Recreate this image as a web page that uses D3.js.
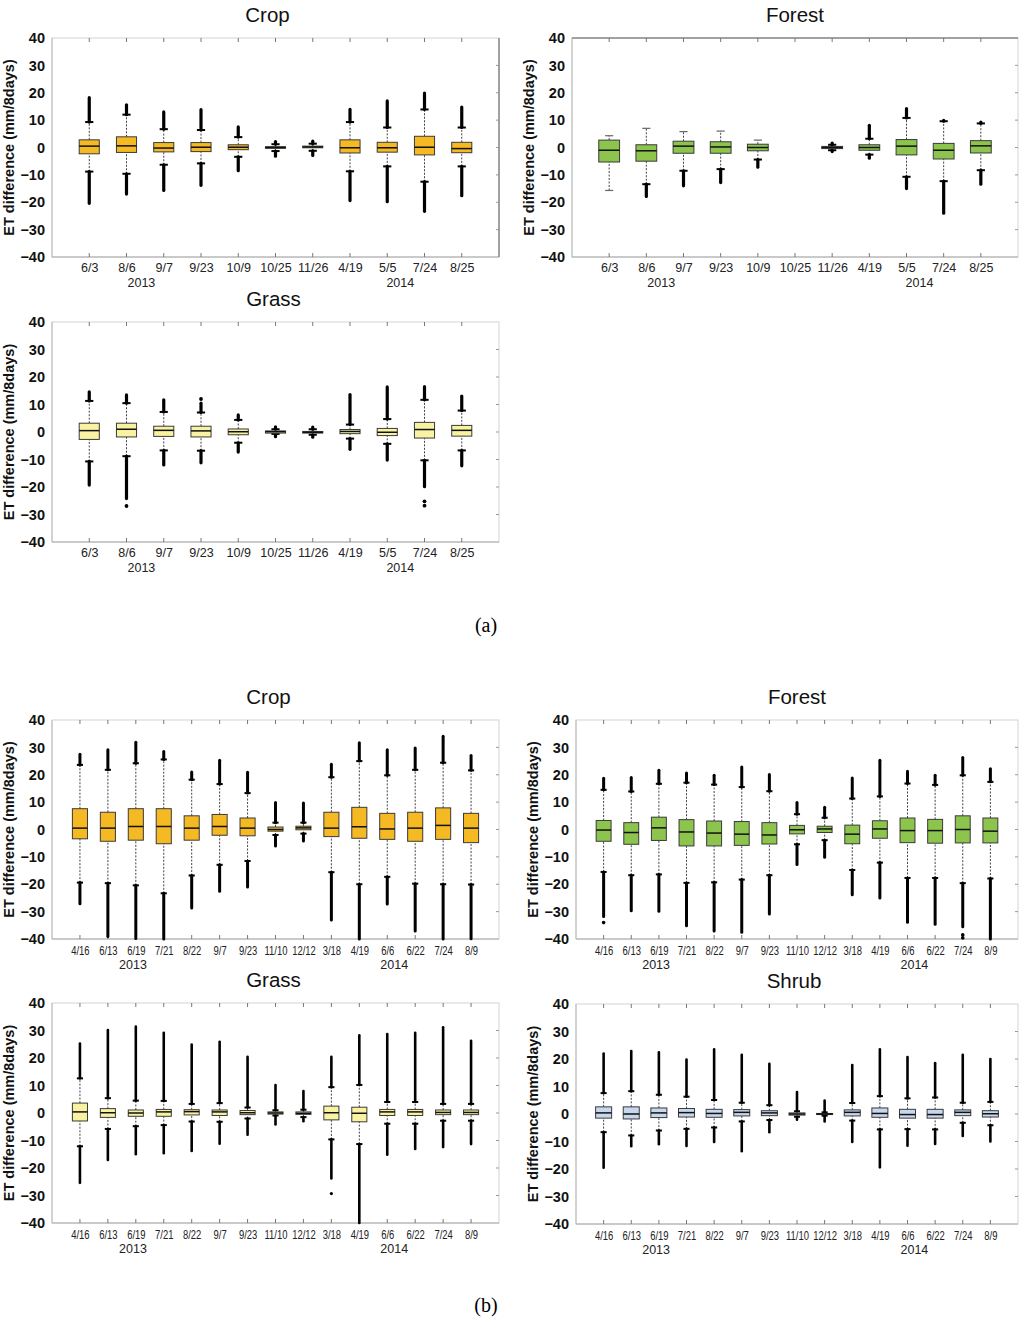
<!DOCTYPE html>
<html>
<head>
<meta charset="utf-8">
<script src="https://cdn.jsdelivr.net/npm/d3@7"></script>
<style>
  body { margin: 0; background: #fff; }
  text { font-family: "Liberation Sans", Arial, sans-serif; }
</style>
</head>
<body>
<script>
// dates of the image pairs
const datesA = ['6/3', '8/6', '9/7', '9/23', '10/9', '10/25', '11/26', '4/19', '5/5', '7/24', '8/25'];
const datesB = ['4/16', '6/13', '6/19', '7/21', '8/22', '9/7', '9/23', '11/10', '12/12', '3/18', '4/19', '6/6', '6/22', '7/24', '8/9'];
const yTicks = [-40, -30, -20, -10, 0, 10, 20, 30, 40];

// rows: [outlier min, whisker low, q1, median, q3, whisker high, outlier max]
const cropA = [
  [-20.4, -8.8, -2.3, 0.5, 2.8, 9.3, 18.2],
  [-17, -9.6, -1.8, 0.6, 3.9, 12, 15.6],
  [-15.7, -6.3, -1.6, -0.2, 1.8, 6.7, 13],
  [-13.8, -5.8, -1.5, 0.1, 1.8, 6.4, 13.8],
  [-8.5, -3.4, -0.8, 0.1, 1.0, 3.8, 7.5],
  [-3.2, -1.3, -0.3, 0, 0.3, 1.2, 2.2],
  [-2.9, -1.2, -0.1, 0.2, 0.5, 1.4, 2.3],
  [-19.4, -8.7, -2, -0.1, 2.8, 9.3, 13.9],
  [-19.8, -6.9, -1.7, -0.1, 1.9, 7.3, 17],
  [-23.3, -12.5, -2.7, 0.1, 4.1, 13.9, 19.9],
  [-17.6, -6.9, -1.9, -0.4, 1.9, 7.3, 14.8]
];
const forestA = [
  [-15.7, -15.7, -5.3, -1, 2.7, 4.3, 4.3],
  [-17.9, -13.4, -5, -1.2, 1, 7, 7],
  [-14, -8.5, -2.1, 0.5, 2.3, 5.8, 5.8],
  [-12.8, -7.9, -2.1, 0.2, 2.1, 6, 6],
  [-7.2, -4.4, -1.2, 0, 1.2, 2.7, 2.7],
  null,
  [-1.5, -1, -0.4, 0, 0.4, 1, 1.6],
  [-3.9, -2.6, -1, 0, 1, 3.2, 8.1],
  [-15, -10.7, -2.7, 0.5, 2.9, 10.8, 14.2],
  [-24, -12.3, -4.2, -1, 1.5, 9.6, 9.9],
  [-13.4, -8.3, -2, 0.6, 2.5, 8.8, 9.3]
];
const grassA = [
  [-19.3, -10.7, -2.7, 0.5, 3.2, 11.3, 14.6],
  [-24.2, -8.8, -1.8, 1, 3.2, 10.5, 13.5],
  [-12, -6.7, -1.6, 0.6, 2.1, 7.3, 11.7],
  [-11.2, -6.8, -1.8, 0.4, 2.1, 7.1, 10.5],
  [-7.3, -3.9, -1, 0.1, 1.1, 4.4, 6.2],
  [-1.7, -0.7, -0.4, 0.1, 0.4, 1, 1.9],
  [-1.9, -1, -0.4, -0.1, 0.2, 1, 1.8],
  [-6.3, -2.4, -0.6, 0.2, 0.9, 2.7, 13.6],
  [-10.2, -4.3, -1.3, -0.1, 1.3, 4.7, 16.4],
  [-19.9, -10.3, -2.2, 0.9, 3.5, 11.7, 16.5],
  [-12.3, -6.7, -1.5, 0.6, 2.4, 7.8, 13.1]
];
const grassAExtra = [['8/6', -26.9], ['9/23', 12], ['7/24', -25.2], ['7/24', -26.8]];

const cropB = [
  [-27.1, -19.4, -3.4, 0.5, 7.6, 23.6, 27.5],
  [-39.1, -19.6, -4.3, 0.5, 6.3, 21.8, 29.1],
  [-39.8, -20.4, -3.9, 1.1, 7.6, 24.2, 31.9],
  [-40, -23.3, -5.2, 1.1, 7.6, 25.6, 28.5],
  [-28.7, -16.8, -3.9, 0.5, 5, 18.2, 21],
  [-22.6, -12.9, -2.1, 1.1, 5.5, 16.6, 25.3],
  [-21, -11.5, -2.3, 0.5, 4.2, 13.3, 20.9],
  [-6, -2, -0.6, 0, 0.9, 2.5, 9.9],
  [-4.2, -1.5, -0.1, 0.6, 1.2, 2.5, 9.7],
  [-33.1, -15.6, -2.6, 0.5, 6.3, 19.1, 23.8],
  [-40, -20, -3.2, 1, 8.1, 25, 31.7],
  [-27.2, -17.3, -3.6, 0.2, 5.9, 19.8, 29.1],
  [-37.1, -19.8, -4.3, 0.5, 6.3, 21.8, 29.8],
  [-40, -20, -3.6, 1.5, 7.9, 24.4, 34.1],
  [-39.9, -20.1, -4.8, 0.5, 5.9, 21.6, 27]
];
const forestB = [
  [-31.8, -15.5, -4.3, -0.2, 3.3, 14.5, 18.7],
  [-29.7, -16.7, -5.4, -1.1, 2.5, 13.9, 19],
  [-29.9, -16.4, -4, 0.6, 4.5, 16.7, 21.6],
  [-35.2, -19.5, -6, -0.9, 3.6, 17.1, 20.6],
  [-37.1, -19.3, -6, -1.3, 3.1, 16.4, 19.8],
  [-37.5, -18.3, -5.8, -1.7, 2.9, 15.5, 22.8],
  [-30.9, -16.7, -5.3, -2, 2.5, 14, 20.1],
  [-12.8, -5.4, -1.6, -0.1, 1.5, 5.6, 9.9],
  [-10.1, -3.9, -1.1, 0.2, 1.2, 4.3, 8.1],
  [-23.8, -14.8, -5.2, -1.7, 1.6, 11.3, 18.8],
  [-25, -12.1, -3.2, 0.2, 3.2, 12.1, 25.3],
  [-33.9, -17.7, -4.8, -0.4, 4.2, 16.8, 21.3],
  [-34.6, -17.7, -5, -0.4, 3.7, 16.3, 19.8],
  [-35.5, -19.6, -4.9, 0, 5, 19.8, 26.3],
  [-40, -17.9, -4.9, -0.6, 4.2, 17.4, 22.2]
];
const forestBExtra = [['4/16', -34], ['7/24', -38.5], ['7/24', -39.6]];
const grassB = [
  [-25.4, -12.1, -2.9, 0.4, 3.6, 12.6, 25.3],
  [-17.1, -5.8, -1.6, 0.1, 1.6, 5.4, 30.2],
  [-15, -4.8, -1.2, 0, 1.1, 4.5, 31.4],
  [-14.6, -4.4, -1.2, 0.4, 1.3, 4.4, 29.2],
  [-13.8, -3.1, -0.7, 0.5, 1.2, 3.3, 24.9],
  [-11.2, -3.2, -0.9, 0.4, 1.1, 3.6, 25.9],
  [-7.9, -2, -0.6, 0.1, 0.9, 2, 20.4],
  [-4.2, -0.9, -0.4, 0, 0.4, 1, 10.2],
  [-3, -1.5, -0.5, -0.1, 0.4, 1.2, 8],
  [-23.8, -9.6, -2.5, 0.1, 2.5, 9.4, 20.4],
  [-40, -11.3, -3.2, -0.1, 2.1, 10.2, 28.3],
  [-15.2, -3.9, -0.9, 0.4, 1.3, 4, 28.7],
  [-13.1, -3.9, -0.9, 0.4, 1.3, 4, 29.2],
  [-12.4, -2.8, -0.6, 0.2, 1.1, 3.3, 31.2],
  [-11.3, -2.8, -0.6, 0.2, 1.1, 3.3, 26.3]
];
const grassBExtra = [['3/18', -29.3]];
const shrubB = [
  [-19.5, -6.6, -1.5, 0.4, 2.6, 7.6, 22],
  [-11.7, -7.8, -1.8, 0, 2.6, 8.3, 22.9],
  [-11, -6, -1.3, 0.4, 2.2, 7, 22.4],
  [-11.6, -5.4, -1.1, 0.5, 2, 6.3, 19.8],
  [-10.2, -4.9, -1.2, 0.2, 1.7, 5.1, 23.5],
  [-13.5, -2.7, -0.7, 0.6, 1.6, 4.1, 21.5],
  [-6.6, -2.2, -0.6, 0.4, 1.2, 3.2, 18.3],
  [-2.1, -1, -0.4, 0, 0.4, 1, 8],
  [-2.7, -0.6, -0.2, 0, 0.2, 0.6, 4.9],
  [-10.2, -2.4, -0.7, 0.6, 1.5, 4, 17.8],
  [-19.4, -5.6, -1.2, 0.2, 2.2, 6.5, 23.5],
  [-11.5, -5.5, -1.5, -0.2, 1.7, 5.7, 20.7],
  [-10.9, -5.6, -1.5, -0.2, 1.7, 6, 18.5],
  [-8, -3.2, -0.6, 0.6, 1.5, 4.1, 21.5],
  [-10, -4.1, -1.1, 0.1, 1.2, 4.4, 20]
];

const colCrop = '#f5b923', colForest = '#8cc44e', colGrass = '#f8f2a2', colShrub = '#c7d7ee';
const FONT = '"Liberation Sans", Arial, sans-serif';

const svg = d3.select('body')
  .append('svg')
  .attr('width', 1024)
  .attr('height', 1321)
  .style('font-family', FONT);

var drawPanel = function(p) {
  const x = d3.scalePoint().domain(p.dates).range([p.x0, p.x1]).padding(1);
  const y = d3.scaleLinear().domain([-40, 40]).range([p.y1, p.y0]).clamp(true);
  const step = x.step();
  const bw = step * p.bw, cw = step * 0.22;
  const g = svg.append('g');

  // frame
  g.append('rect')
    .attr('x', p.x0).attr('y', p.y0)
    .attr('width', p.x1 - p.x0).attr('height', p.y1 - p.y0)
    .attr('fill', 'none').attr('stroke', '#d4d4d4');
  g.append('line').attr('x1', p.x0).attr('x2', p.x0).attr('y1', p.y0).attr('y2', p.y1)
    .attr('stroke', '#bbb');
  g.append('line').attr('x1', p.x0).attr('x2', p.x1).attr('y1', p.y1).attr('y2', p.y1)
    .attr('stroke', '#aaa');
  if (p.edge === 'right') {
    g.append('line').attr('x1', p.x1).attr('x2', p.x1).attr('y1', p.y0).attr('y2', p.y1)
      .attr('stroke', '#888').attr('stroke-width', 1.5);
  }
  if (p.edge === 'top') {
    g.append('line').attr('x1', p.x0).attr('x2', p.x1).attr('y1', p.y0).attr('y2', p.y0)
      .attr('stroke', '#888').attr('stroke-width', 1.5);
  }

  // y axis
  const yAxis = g.append('g')
    .attr('transform', `translate(${p.x0},0)`)
    .call(d3.axisLeft(y).tickValues(yTicks).tickSize(0).tickPadding(7)
      .tickFormat(d => d < 0 ? '\u2212' + Math.abs(d) : d));
  yAxis.select('.domain').remove();
  yAxis.selectAll('text').attr('font-size', 14.5).attr('font-weight', 'bold').attr('fill', '#111')
    .style('font-family', FONT);
  // little tick marks on right edge
  g.selectAll('.rt').data(yTicks.slice(1, -1)).enter().append('line')
    .attr('x1', p.x1 - 3).attr('x2', p.x1).attr('y1', d => y(d)).attr('y2', d => y(d))
    .attr('stroke', '#999');

  // x axis
  const xAxis = g.append('g')
    .attr('transform', `translate(0,${p.y1})`)
    .call(d3.axisBottom(x).tickSize(0).tickPadding(6));
  xAxis.select('.domain').remove();
  xAxis.selectAll('text').attr('font-size', p.fs).attr('fill', '#222')
    .attr('transform', `scale(${p.sx},1)`)
    .style('font-family', FONT);
  g.selectAll('.tt').data(p.dates).enter().append('line')
    .attr('x1', d => x(d)).attr('x2', d => x(d)).attr('y1', p.y0).attr('y2', p.y0 + 4)
    .attr('stroke', '#777');
  g.selectAll('.bt').data(p.dates).enter().append('line')
    .attr('x1', d => x(d)).attr('x2', d => x(d)).attr('y1', p.y1 - 4).attr('y2', p.y1)
    .attr('stroke', '#777');

  // years
  p.years.forEach(function(yr) {
    g.append('text')
      .attr('x', x(p.dates[0]) + yr[0] * step).attr('y', p.y1 + 30)
      .attr('text-anchor', 'middle').attr('font-size', 12.5).attr('fill', '#222')
      .text(yr[1]);
  });

  // titles
  g.append('text')
    .attr('x', (p.x0 + p.x1) / 2 + (p.tx || 0)).attr('y', p.y0 - 16)
    .attr('text-anchor', 'middle').attr('font-size', 20.5).attr('fill', '#111')
    .text(p.name);
  g.append('text')
    .attr('transform', `translate(${p.x0 - 38},${(p.y0 + p.y1) / 2}) rotate(-90)`)
    .attr('text-anchor', 'middle').attr('font-size', 14.5).attr('font-weight', 'bold')
    .attr('fill', '#111')
    .text('ET difference (mm/8days)');

  const rows = p.data.map((d, i) => ({ date: p.dates[i], v: d })).filter(d => d.v !== null);

  // whiskers (dashed)
  g.selectAll('.wl').data(rows).enter().append('line')
    .attr('x1', d => x(d.date)).attr('x2', d => x(d.date))
    .attr('y1', d => y(d.v[1])).attr('y2', d => y(d.v[2]))
    .attr('stroke', '#444').attr('stroke-dasharray', '2,1.5');
  g.selectAll('.wh').data(rows).enter().append('line')
    .attr('x1', d => x(d.date)).attr('x2', d => x(d.date))
    .attr('y1', d => y(d.v[4])).attr('y2', d => y(d.v[5]))
    .attr('stroke', '#444').attr('stroke-dasharray', '2,1.5');

  // dense outliers
  g.selectAll('.ol').data(rows.filter(d => d.v[0] < d.v[1])).enter().append('line')
    .attr('x1', d => x(d.date)).attr('x2', d => x(d.date))
    .attr('y1', d => y(d.v[1])).attr('y2', d => y(d.v[0]))
    .attr('stroke', '#000').attr('stroke-width', p.ow).attr('stroke-linecap', 'round');
  g.selectAll('.oh').data(rows.filter(d => d.v[6] > d.v[5])).enter().append('line')
    .attr('x1', d => x(d.date)).attr('x2', d => x(d.date))
    .attr('y1', d => y(d.v[5])).attr('y2', d => y(d.v[6]))
    .attr('stroke', '#000').attr('stroke-width', p.ow).attr('stroke-linecap', 'round');
  g.selectAll('.ex').data(p.extra || []).enter().append('circle')
    .attr('cx', d => x(d[0])).attr('cy', d => y(d[1])).attr('r', p.ow / 2 + 0.3)
    .attr('fill', '#000');

  // whisker caps
  [1, 5].forEach(function(k) {
    g.selectAll('.cap' + k).data(rows).enter().append('line')
      .attr('x1', d => x(d.date) - cw / 2).attr('x2', d => x(d.date) + cw / 2)
      .attr('y1', d => y(d.v[k])).attr('y2', d => y(d.v[k]))
      .attr('stroke', d => (k === 1 ? d.v[0] < d.v[1] : d.v[6] > d.v[5]) ? '#000' : '#666')
      .attr('stroke-width', d => (k === 1 ? d.v[0] < d.v[1] : d.v[6] > d.v[5]) ? 2 : 1.2);
  });

  // boxes
  g.selectAll('.box').data(rows).enter().append('rect')
    .attr('x', d => x(d.date) - bw / 2).attr('width', bw)
    .attr('y', d => y(d.v[4])).attr('height', d => Math.max(1, y(d.v[2]) - y(d.v[4])))
    .attr('fill', p.color).attr('stroke', '#3a3a3a').attr('stroke-width', 1);
  g.selectAll('.med').data(rows).enter().append('line')
    .attr('x1', d => x(d.date) - bw / 2).attr('x2', d => x(d.date) + bw / 2)
    .attr('y1', d => y(d.v[3])).attr('y2', d => y(d.v[3]))
    .attr('stroke', '#111').attr('stroke-width', 1.5);
};

const yrsA = [[1.4, '2013'], [8.35, '2014']];
const yrsB = [[1.9, '2013'], [11.25, '2014']];

drawPanel({ name: 'Crop', tx: -8, dates: datesA, data: cropA, color: colCrop, x0: 52, x1: 499, y0: 38, y1: 257, bw: 0.54, ow: 3.2, years: yrsA, fs: 12.5, sx: 1, edge: 'right' });
drawPanel({ name: 'Forest', dates: datesA, data: forestA, color: colForest, x0: 572, x1: 1018, y0: 38, y1: 257, bw: 0.56, ow: 3.2, years: yrsA, fs: 12.5, sx: 1, edge: 'top' });
drawPanel({ name: 'Grass', tx: -2, dates: datesA, data: grassA, extra: grassAExtra, color: colGrass, x0: 52, x1: 499, y0: 322, y1: 542, bw: 0.54, ow: 3.2, years: yrsA, fs: 12.5, sx: 1 });
drawPanel({ name: 'Crop', tx: -7, dates: datesB, data: cropB, color: colCrop, x0: 52, x1: 499, y0: 720, y1: 939, bw: 0.54, ow: 3, years: yrsB, fs: 13.5, sx: 0.7 });
drawPanel({ name: 'Forest', dates: datesB, data: forestB, extra: forestBExtra, color: colForest, x0: 576, x1: 1018, y0: 720, y1: 939, bw: 0.54, ow: 3, years: yrsB, fs: 13.5, sx: 0.7 });
drawPanel({ name: 'Grass', tx: -2, dates: datesB, data: grassB, extra: grassBExtra, color: colGrass, x0: 52, x1: 499, y0: 1003, y1: 1223, bw: 0.54, ow: 2.6, years: yrsB, fs: 13.5, sx: 0.7 });
drawPanel({ name: 'Shrub', tx: -3, dates: datesB, data: shrubB, color: colShrub, x0: 576, x1: 1018, y0: 1004, y1: 1224, bw: 0.58, ow: 2.6, years: yrsB, fs: 13.5, sx: 0.7 });

// sub-figure labels
svg.append('text').attr('x', 486).attr('y', 632).attr('text-anchor', 'middle')
  .attr('font-size', 20).style('font-family', '"Liberation Serif", "DejaVu Serif", serif')
  .text('(a)');
svg.append('text').attr('x', 486).attr('y', 1312).attr('text-anchor', 'middle')
  .attr('font-size', 20).style('font-family', '"Liberation Serif", "DejaVu Serif", serif')
  .text('(b)');
</script>
</body>
</html>
